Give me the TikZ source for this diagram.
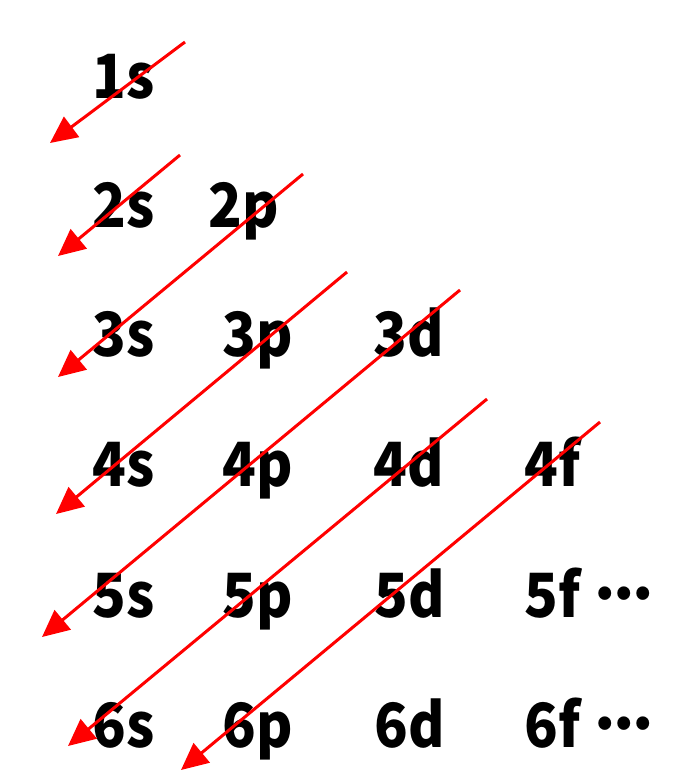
\documentclass[tikz,border=0pt]{standalone}
\usepackage{fontspec}
\setmainfont{Noto Sans CJK SC}[FakeStretch=0.91]
\newfontfamily\dotfont{Noto Sans CJK SC Bold}
\usetikzlibrary{arrows.meta}
\newcommand{\orbdots}{\kern14pt\raisebox{18pt}{\dotfont.\kern-2pt.\kern-2pt.}}
\tikzset{orbital/.style={anchor=base west,inner sep=0pt,font=\fontsize{61}{61}\selectfont\bfseries},
  fillarrow/.style={red,line width=3pt,-{Triangle[length=27pt,width=25pt]}}}

\begin{document}
\begin{tikzpicture}[x=1pt,y=-1pt]
\useasboundingbox (0,0) rectangle (696,782);
%the orbitals, row by row
\node[orbital] (o1s) at (92,98) {1s};
\node[orbital] (o2s) at (92,227) {2s};
\node[orbital] (o2p) at (208,227) {2p};
\node[orbital] (o3s) at (92,356) {3s};
\node[orbital] (o3p) at (222,356) {3p};
\node[orbital] (o3d) at (373,356) {3d};
\node[orbital] (o4s) at (92,486) {4s};
\node[orbital] (o4p) at (222,486) {4p};
\node[orbital] (o4d) at (373,486) {4d};
\node[orbital] (o4f) at (524,486) {4f};
\node[orbital] (o5s) at (92,617) {5s};
\node[orbital] (o5p) at (222,617) {5p};
\node[orbital] (o5d) at (374,617) {5d};
\node[orbital] (o5f) at (524,617) {5f\orbdots};
\node[orbital] (o6s) at (92,747) {6s};
\node[orbital] (o6p) at (222,747) {6p};
\node[orbital] (o6d) at (374,747) {6d};
\node[orbital] (o6f) at (524,747) {6f\orbdots};
%ends of the filling arrows
\coordinate (a1) at (185,42);  \coordinate (b1) at (50,143);
\coordinate (a2) at (180,155); \coordinate (b2) at (58,256);
\coordinate (a3) at (303,174); \coordinate (b3) at (58,377);
\coordinate (a4) at (347,272); \coordinate (b4) at (56,514);
\coordinate (a5) at (460,290); \coordinate (b5) at (42,637);
\coordinate (a6) at (487,399); \coordinate (b6) at (68,746);
\coordinate (a7) at (600,422); \coordinate (b7) at (181,770);
%drawings of the arrows
\draw[fillarrow] (a1) -- (b1);

\draw[fillarrow] (a2) -- (b2);

\draw[fillarrow] (a3) -- (b3);

\draw[fillarrow] (a4) -- (b4);

\draw[fillarrow] (a5) -- (b5);

\draw[fillarrow] (a6) -- (b6);

\draw[fillarrow] (a7) -- (b7);

\end{tikzpicture}
\end{document}
